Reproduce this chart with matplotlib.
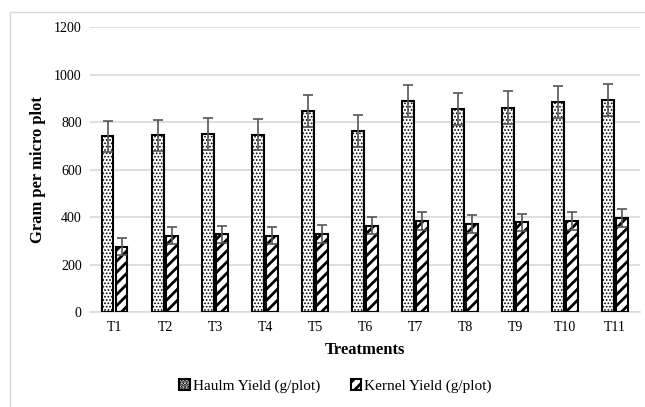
import numpy as np
import matplotlib.pyplot as plt
from matplotlib.patches import Rectangle

plt.rcParams['font.family'] = ['Liberation Serif', 'DejaVu Serif']

treatments = ['T1', 'T2', 'T3', 'T4', 'T5', 'T6', 'T7', 'T8', 'T9', 'T10', 'T11']
haulm = [740, 745, 750, 748, 848, 762, 888, 855, 862, 885, 893]
haulm_err = [65, 66, 67, 66, 68, 68, 68, 67, 68, 68, 68]
kernel = [275, 322, 328, 322, 328, 365, 385, 372, 378, 385, 395]
kernel_err = [36, 36, 36, 36, 38, 36, 38, 38, 36, 38, 38]

x = np.arange(len(treatments))
w = 0.23

fig = plt.figure(figsize=(6.45, 4.07), dpi=100)
ax = fig.add_axes([0.1395, 0.233, 0.853, 0.7])

err_kw = dict(ecolor='#555555', elinewidth=1.2, capsize=3.5, capthick=1.2)
plt.rcParams['hatch.linewidth'] = 0.8
b1 = ax.bar(x - 0.145, haulm, w, yerr=haulm_err, color='white', edgecolor='black',
            linewidth=1.5, hatch='.....', label='Haulm Yield (g/plot)', error_kw=err_kw, zorder=3)
plt.rcParams['hatch.linewidth'] = 2.0
b2 = ax.bar(x + 0.135, kernel, w, yerr=kernel_err, color='white', edgecolor='black',
            linewidth=1.5, hatch='///', label='Kernel Yield (g/plot)', error_kw=err_kw, zorder=3)
for p in b1:
    if hasattr(p, 'set_hatch_linewidth'):
        p.set_hatch_linewidth(0.8)
for p in b2:
    if hasattr(p, 'set_hatch_linewidth'):
        p.set_hatch_linewidth(2.0)

ax.set_ylim(0, 1200)
ax.set_yticks(range(0, 1201, 200))
ax.set_xlim(-0.5, len(treatments) - 0.5)
ax.set_xticks(x)
ax.set_xticklabels(treatments)
ax.yaxis.grid(True, color='#d9d9d9', linewidth=1.2, zorder=0)
ax.set_axisbelow(True)
for s in ['top', 'right', 'left']:
    ax.spines[s].set_visible(False)
ax.spines['bottom'].set_color('#d9d9d9')
ax.spines['bottom'].set_linewidth(1.2)
ax.tick_params(length=0, labelsize=10, pad=6)

ax.set_xlabel('Treatments', fontsize=12, fontweight='bold', labelpad=6)
ax.set_ylabel('Gram per micro plot', fontsize=12, fontweight='bold', labelpad=6)

fig.legend(loc='lower center', bbox_to_anchor=(0.52, 0.0), ncol=2, frameon=False,
           fontsize=11, handlelength=0.7, handleheight=0.7, handletextpad=0.2,
           columnspacing=2.0)

# outer chart frame
fig.patches.append(Rectangle((0.016, -0.01), 0.99, 0.98, transform=fig.transFigure,
                             fill=False, edgecolor='#d9d9d9', linewidth=1))

fig.savefig('out.png', dpi=100)
